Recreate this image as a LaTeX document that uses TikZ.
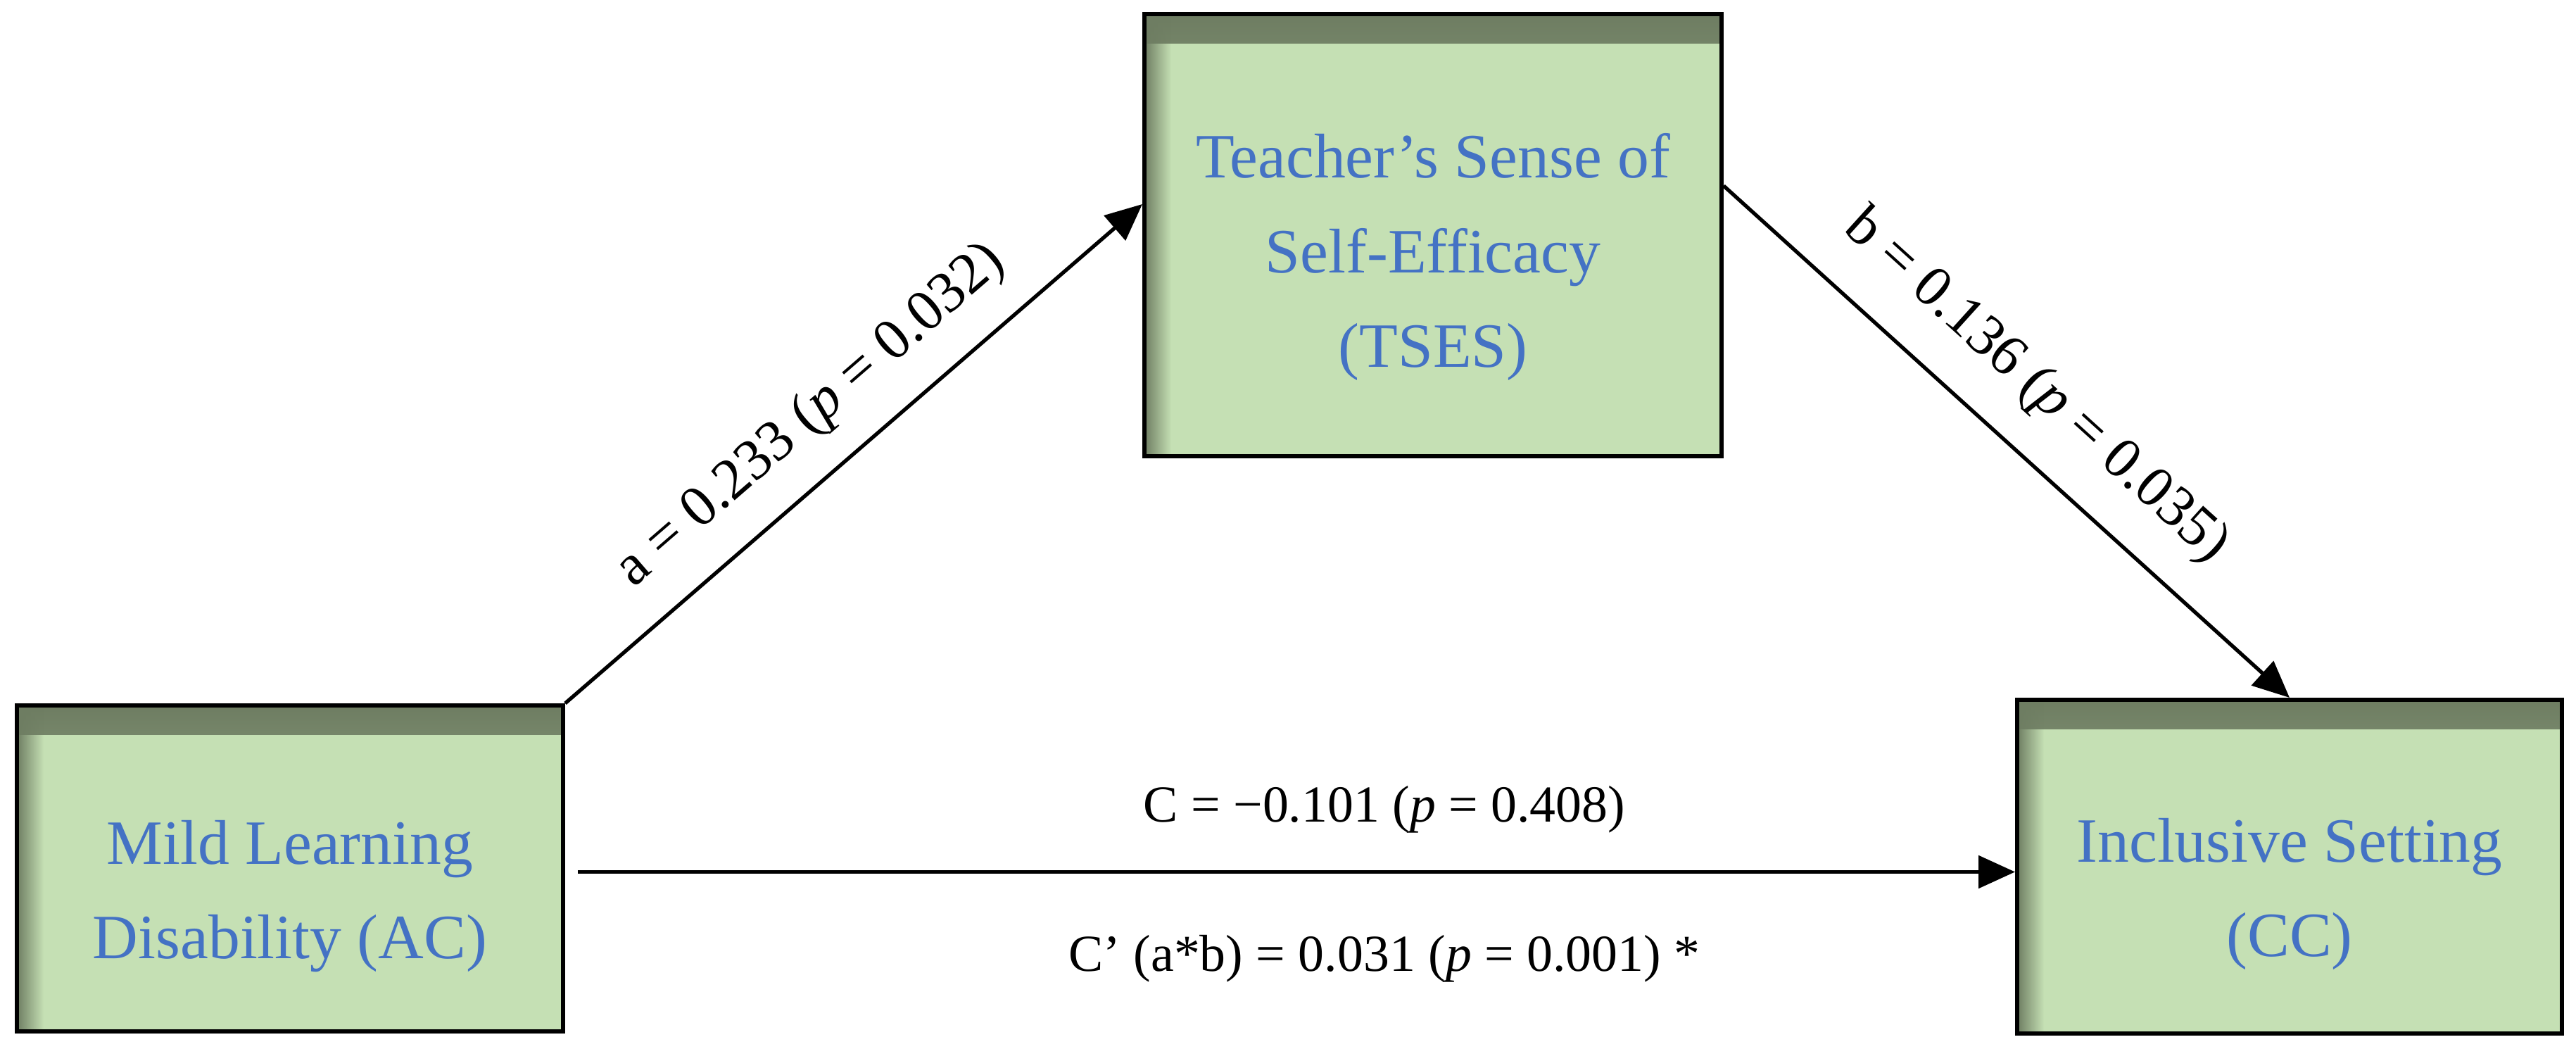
\documentclass[tikz,border=0pt]{standalone}
\usepackage{fontspec}
\setmainfont{Liberation Serif}
\usetikzlibrary{arrows.meta}
\usetikzlibrary{fadings}

\definecolor{boxgreen}{HTML}{C5E0B4}
\definecolor{boxshade}{HTML}{6E7D62}
\definecolor{boxtext}{HTML}{4472C4}

\begin{document}
\begin{tikzpicture}[
  box/.style={draw, line width=1.7pt, fill=boxgreen, inner sep=0pt, align=center,
    text=boxtext, font=\fontsize{25.5pt}{38.4pt}\selectfont, text depth=0pt,
    path picture={
      \fill[boxshade, path fading=south] (path picture bounding box.north west) rectangle ([yshift=-.42cm]path picture bounding box.north east);
      \fill[boxshade, path fading=east] (path picture bounding box.north west) rectangle ([xshift=.38cm]path picture bounding box.south west);
    }},
  arr/.style={line width=1.5pt, -{Triangle[length=.52cm,width=.46cm]}},
  lab/.style={font=\fontsize{21pt}{25pt}\selectfont},
  slab/.style={font=\fontsize{23.5pt}{27pt}\selectfont}]
\useasboundingbox (0,0) rectangle (36.6,14.9);

\node[box, minimum width=7.76cm, minimum height=4.63cm, text height=2.57cm] (AC) at (4.12,2.565) {Mild Learning\\Disability (AC)}; % left box
\node[box, minimum width=8.2cm, minimum height=6.28cm, text height=3.76cm] (TSES) at (20.36,11.56) {Teacher’s Sense of\\Self-Efficacy\\(TSES)}; % top box
\node[box, minimum width=7.74cm, minimum height=4.74cm, text height=2.56cm] (CC) at (32.53,2.59) {Inclusive Setting\\(CC)}; % right box

% paths
\draw[arr] (AC.north east) -- ([yshift=.44cm]TSES.west)
  node[slab, pos=.49, sloped, yshift=.8cm] (alab) {a = 0.233 (\textit{p} = 0.032)};
\draw[arr] ([yshift=.7cm]TSES.east) -- (CC.north)
  node[slab, pos=.48, sloped, yshift=.86cm] (blab) {b = 0.136 (\textit{p} = 0.035)};
\draw[arr, shorten <=.18cm] ([yshift=-.05cm]AC.east) -- ([yshift=-.05cm]AC.east -| CC.west)
  node[lab, pos=.565, anchor=base, yshift=.71cm] (clab) {C = −0.101 (\textit{p} = 0.408)}
  node[lab, pos=.565, anchor=base, yshift=-1.41cm] (cplab) {C’ (a*b) = 0.031 (\textit{p} = 0.001) *};

\end{tikzpicture}
\end{document}
